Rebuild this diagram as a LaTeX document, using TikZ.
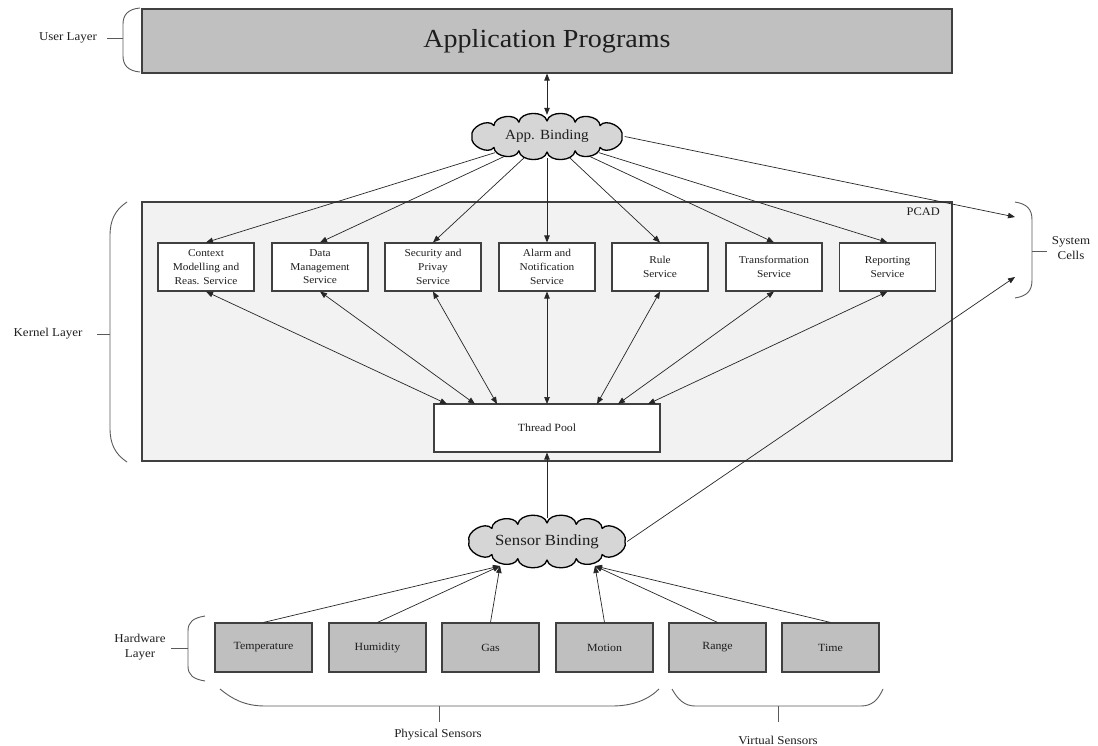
\documentclass[tikz,border=0pt]{standalone}
\usepackage{fontspec}
\setmainfont{Liberation Serif}[FakeStretch=1.08]
\usetikzlibrary{shapes.geometric,arrows.meta,calc}

\definecolor{edge}{HTML}{404040}
\definecolor{apfill}{HTML}{C0C0C0}
\definecolor{kfill}{HTML}{F2F2F2}
\definecolor{cloudfill}{HTML}{D6D6D6}
\definecolor{hwfill}{HTML}{BFBFBF}
\definecolor{ink}{HTML}{1E1E1E}
\definecolor{bracec}{HTML}{5A5A5A}

% puffy outline around an ellipse: centre x, centre y, x radius, y radius (pt)
\newcommand\puffoutline[4]{%
  \draw[cloudline] ($(#1,#2)+(0:#3pt and #4pt)$)
    \foreach \a in {45,68,90,112,135,180,225,248,270,292,315,360}
      { to[bend right=80] ($(#1,#2)+(\a:#3pt and #4pt)$) } -- cycle;
}

\begin{document}
\begin{tikzpicture}[x=1pt,y=-1pt,
  >={Triangle[length=7pt,width=5.5pt]},
  every node/.style={text=ink},
  layerlabel/.style={font=\fontsize{12}{15}\selectfont, align=center, inner sep=0pt},
  svcbox/.style={draw=edge, line width=1.1pt, fill=white, minimum width=96pt,
    minimum height=48pt, align=center, inner sep=0pt,
    font=\fontsize{10.5}{13.6}\selectfont},
  hwbox/.style={draw=edge, line width=1.1pt, fill=hwfill, minimum width=97pt,
    minimum height=49pt, inner sep=0pt, font=\fontsize{11}{13}\selectfont},
  bindarea/.style={ellipse, inner sep=0pt},
  cloudline/.style={draw=black, line width=1.3pt, fill=cloudfill, line join=round},
  arr/.style={->, line width=0.7pt, draw=black!85},
  dblarr/.style={<->, line width=0.7pt, draw=black!85},
  bracket/.style={draw=bracec, line width=0.9pt}
]
\useasboundingbox (0,0) rectangle (1098,746);

% ---------- layers ----------
\node (ap) [draw=edge, line width=1.2pt, fill=apfill, minimum width=810pt,
  minimum height=64pt, inner sep=0pt, font=\fontsize{26}{30}\selectfont]
  at (547,41) {Application Programs};

\node (pcad) [draw=edge, line width=1.1pt, fill=kfill, minimum width=810pt,
  minimum height=259pt, inner sep=0pt] at (547,331.5) {};
\node (pcadlbl) [anchor=north east, inner sep=0pt, font=\fontsize{11.5}{14}\selectfont]
  at (940,208) {PCAD};

% ---------- binding areas (outlines drawn further down) ----------
\node (ab) [bindarea, minimum width=155pt, minimum height=43pt] at (547,136.5) {};
\node (sb) [bindarea, minimum width=160pt, minimum height=47pt] at (547,541.5) {};

% ---------- services ----------
\node (ctx) [svcbox] at (206,267) {Context\\Modelling and\\Reas. Service};
\node (dm)  [svcbox] at (320,267) {Data\\Management\\Service};
\node (sec) [svcbox] at (433,267) {Security and\\Privay\\Service};
\node (alm) [svcbox] at (547,267) {Alarm and\\Notification\\Service};
\node (rul) [svcbox] at (660,267) {Rule\\Service};
\node (trf) [svcbox] at (774,267) {Transformation\\Service};
\node (rep) [svcbox] at (887.5,267) {Reporting\\Service};

\node (tp) [draw=edge, line width=1.1pt, fill=white, minimum width=226pt,
  minimum height=48pt, inner sep=0pt, font=\fontsize{11}{13}\selectfont]
  at (547,428) {Thread Pool};

% ---------- sensors ----------
\node (tmp) [hwbox] at (263.5,647.5) {Temperature};
\node (hum) [hwbox] at (377.5,647.5) {Humidity};
\node (gas) [hwbox] at (490.5,647.5) {Gas};
\node (mot) [hwbox] at (604.5,647.5) {Motion};
\node (rng) [hwbox] at (717.5,647.5) {Range};
\node (tim) [hwbox] at (830.5,647.5) {Time};

% ---------- connector end points ----------
\coordinate (t1) at (447,404);
\coordinate (t2) at (475,404);
\coordinate (t3) at (497,404);
\coordinate (t4) at (547,404);
\coordinate (t5) at (597,404);
\coordinate (t6) at (618,404);
\coordinate (t7) at (648,404);
\coordinate (sbl) at (500,566);
\coordinate (sbr) at (595,566);
\coordinate (sc1) at (1015,217);
\coordinate (sc2) at (1015,277);

% ---------- connectors ----------
\draw[dblarr] (ap.south) -- (ab.north);
\foreach \s in {ctx,dm,sec,alm,rul,trf,rep}
  \draw[arr] (ab) -- (\s.north);
\draw[arr] (ab.east) -- (sc1);

\draw[dblarr] (ctx.south) -- (t1);
\draw[dblarr] (dm.south)  -- (t2);
\draw[dblarr] (sec.south) -- (t3);
\draw[dblarr] (alm.south) -- (t4);
\draw[dblarr] (rul.south) -- (t5);
\draw[dblarr] (trf.south) -- (t6);
\draw[dblarr] (rep.south) -- (t7);

\draw[arr] (sb) -- (tp.south);
\draw[arr] (sb.east) -- (sc2);

% ---------- binding clouds ----------
\puffoutline{547}{136.5}{75}{15.5}
\node (abtext) [inner sep=0pt, font=\fontsize{14}{17}\selectfont] at (ab) {App. Binding};
\puffoutline{547}{541.5}{78}{18.5}
\node (sbtext) [inner sep=0pt, font=\fontsize{15.5}{18}\selectfont] at (sb) {Sensor Binding};

\draw[arr] (tmp.north) -- (sbl);
\draw[arr] (hum.north) -- (sbl);
\draw[arr] (gas.north) -- (sbl);
\draw[arr] (mot.north) -- (sbr);
\draw[arr] (rng.north) -- (sbr);
\draw[arr] (tim.north) -- (sbr);

% ---------- brackets and their labels ----------
% user layer
\draw[bracket] (140,8) .. controls (128,9) and (123,15) .. (123,24) -- (123,56)
  .. controls (123,65) and (128,71) .. (140,72);
\draw[bracket] (107,38) -- (123,38);
\node (ul) [layerlabel] at (68,38) {User Layer};

% kernel layer
\draw[bracket] (127,202) .. controls (115,210) and (110,220) .. (110,236) -- (110,428)
  .. controls (110,444) and (115,454) .. (127,462);
\draw[bracket] (97,334) -- (110,334);
\node (kl) [layerlabel] at (48,334) {Kernel Layer};

% hardware layer
\draw[bracket] (205,616) .. controls (193,618) and (188,622) .. (188,631) -- (188,666)
  .. controls (188,675) and (193,679) .. (205,681);
\draw[bracket] (171,648) -- (188,648);
\node (hl) [layerlabel] at (140,647) {Hardware\\Layer};

% system cells
\draw[bracket] (1015,202) .. controls (1027,204) and (1032,209) .. (1032,220) -- (1032,280)
  .. controls (1032,291) and (1027,296) .. (1015,298);
\draw[bracket] (1032,251) -- (1047,251);
\node (sysc) [layerlabel] at (1071,248) {System\\Cells};

% physical sensors
\draw[bracket] (220,689) .. controls (232,699) and (245,706) .. (265,706) -- (612,706)
  .. controls (632,706) and (648,700) .. (659,689);
\draw[bracket] (439,706) -- (439,722);
\node (ps) [layerlabel] at (438,735) {Physical Sensors};

% virtual sensors
\draw[bracket] (672,689) .. controls (678,700) and (685,706) .. (695,706) -- (861,706)
  .. controls (872,706) and (878,700) .. (883,689);
\draw[bracket] (778,706) -- (778,722);
\node (vs) [layerlabel] at (778,740) {Virtual Sensors};
\end{tikzpicture}
\end{document}
